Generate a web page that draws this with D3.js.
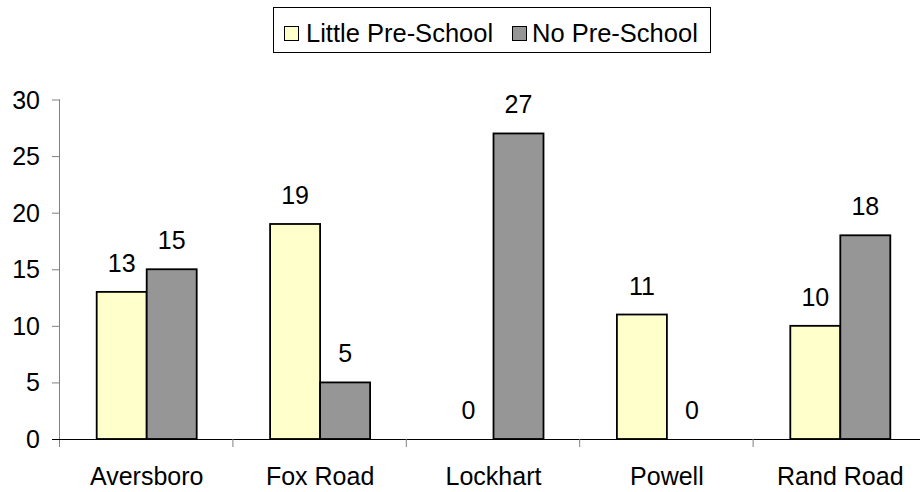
<!DOCTYPE html>
<html>
<head>
<meta charset="utf-8">
<script src="https://cdn.jsdelivr.net/npm/d3@7"></script>
<style>
  html, body { margin: 0; padding: 0; background: #fff; }
  svg { display: block; font-family: Arial, "Liberation Sans", sans-serif; }
</style>
</head>
<body>
<svg id="chart" width="920" height="492"></svg>
<script>
const categories = ["Aversboro", "Fox Road", "Lockhart", "Powell", "Rand Road"];
const seriesNames = ["Little Pre-School", "No Pre-School"];
const littlePreSchool = [13, 19, 0, 11, 10];
const noPreSchool = [15, 5, 27, 0, 18];
const yTicks = [0, 5, 10, 15, 20, 25, 30];
const colors = ["#FFFFCC", "#969696"];

const svg = d3.select("#chart");
const x0 = 60, x1 = 60 + 5 * 173.4, yBottom = 439, yTop = 99.5;

const x = d3.scaleBand().domain(categories).range([x0, x1]).paddingInner(0).paddingOuter(0);
const xs = d3.scaleBand().domain(seriesNames).range([0, 100]);
const y = d3.scaleLinear().domain([0, 30]).range([yBottom, yTop]);

const data = categories.map((c, i) => ({ cat: c, vals: [littlePreSchool[i], noPreSchool[i]] }));

// y axis
const yAxis = svg.append("g").attr("transform", `translate(${x0},0)`)
  .call(d3.axisLeft(y).tickValues(yTicks).tickSize(8).tickPadding(12));
yAxis.select(".domain").attr("stroke", "#808080").attr("d", `M-0.5,${yBottom + 8}V${yTop}`);
yAxis.selectAll(".tick line").attr("stroke", "#808080");
yAxis.selectAll(".tick text").attr("font-size", 25).attr("fill", "#000")
  .attr("font-family", "Arial, 'Liberation Sans', sans-serif").attr("dy", "0.34em");

// bars
const groups = svg.append("g").selectAll("g").data(data).join("g")
  .attr("transform", d => `translate(${x(d.cat) + (x.bandwidth() - 100) / 2},0)`);

groups.selectAll("rect").data(d => d.vals.map((v, j) => ({ v, s: seriesNames[j], j })))
  .join("rect")
  .attr("x", d => xs(d.s))
  .attr("width", xs.bandwidth())
  .attr("y", d => y(d.v))
  .attr("height", d => y(0) - y(d.v))
  .attr("fill", d => colors[d.j])
  .attr("stroke", "#000")
  .attr("stroke-width", 1.8);

groups.selectAll("text").data(d => d.vals.map((v, j) => ({ v, s: seriesNames[j] })))
  .join("text")
  .attr("x", d => xs(d.s) + xs.bandwidth() / 2)
  .attr("y", d => y(d.v) - 20)
  .attr("text-anchor", "middle")
  .attr("font-size", 25)
  .text(d => d.v);

// x axis
const xAxis = svg.append("g").attr("transform", `translate(0,${yBottom})`)
  .call(d3.axisBottom(x).tickSize(0).tickPadding(0));
xAxis.select(".domain").attr("stroke", "#000").attr("d", `M${x0 - 8},0.5H920`);
xAxis.selectAll(".tick text").attr("font-size", 25).attr("fill", "#000")
  .attr("font-family", "Arial, 'Liberation Sans', sans-serif")
  .attr("dy", null).attr("y", 46);
// category separator ticks
svg.append("g").selectAll("line").data(categories.slice(1)).join("line")
  .attr("x1", d => x(d) - 0.5).attr("x2", d => x(d) - 0.5)
  .attr("y1", yBottom).attr("y2", yBottom + 8)
  .attr("stroke", "#808080").attr("stroke-width", 1);

// legend
const legend = svg.append("g");
legend.append("rect").attr("x", 273.5).attr("y", 7.5).attr("width", 437).attr("height", 45)
  .attr("fill", "#fff").attr("stroke", "#000").attr("stroke-width", 1);
const legendItems = [{ name: seriesNames[0], sx: 284, tx: 306 }, { name: seriesNames[1], sx: 512, tx: 532 }];
legendItems.forEach((it, i) => {
  legend.append("rect").attr("x", it.sx + 0.5).attr("y", 26.5).attr("width", 14).attr("height", 14)
    .attr("fill", colors[i]).attr("stroke", "#000").attr("stroke-width", 1);
  legend.append("text").attr("x", it.tx).attr("y", 42).attr("font-size", 25.5).text(it.name);
});
</script>
</body>
</html>
